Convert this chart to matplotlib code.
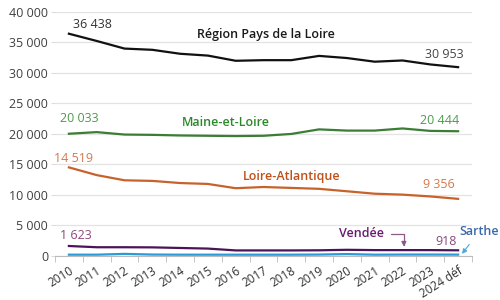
import matplotlib
matplotlib.use("Agg")
import matplotlib.pyplot as plt

# data
years = ["2010", "2011", "2012", "2013", "2014", "2015", "2016", "2017",
         "2018", "2019", "2020", "2021", "2022", "2023", "2024 déf"]
region = [36438, 35250, 34000, 33800, 33150, 32850, 32000, 32100,
          32100, 32800, 32450, 31850, 32050, 31400, 30953]
maine = [20033, 20300, 19900, 19850, 19750, 19700, 19650, 19700,
         20000, 20750, 20550, 20550, 20900, 20500, 20444]
loire_atl = [14519, 13250, 12400, 12300, 11950, 11800, 11100, 11300,
             11150, 11000, 10600, 10200, 10050, 9750, 9356]
vendee = [1623, 1420, 1420, 1400, 1300, 1200, 900, 900,
          900, 920, 1000, 950, 950, 950, 918]
sarthe = [200, 200, 330, 220, 200, 200, 200, 200,
          200, 220, 300, 200, 220, 220, 210]

plt.rcParams['font.family'] = ['Open Sans', 'DejaVu Sans']

fig = plt.figure(figsize=(5, 3), dpi=100)
ax = fig.add_axes([0.11, 0.147, 0.834, 0.813])

x = list(range(len(years)))
ax.plot(x, region, color="#111111", lw=1.6, zorder=3)
ax.plot(x, maine, color="#3b7d35", lw=1.6, zorder=3)
ax.plot(x, loire_atl, color="#c8622c", lw=1.6, zorder=3)
ax.plot(x, vendee, color="#4b1458", lw=1.6, zorder=3)
ax.plot(x, sarthe, color="#2a9ad8", lw=1.6, zorder=3)

ax.set_xlim(-0.5, len(years) - 0.5)
ax.set_ylim(0, 40000)
ax.set_yticks(range(0, 40001, 5000))
ax.set_yticklabels([f"{v:,}".replace(",", " ") for v in range(0, 40001, 5000)])
ax.grid(axis="y", color="#e3e3e3", lw=0.9)
ax.set_axisbelow(True)
for s in ["top", "right", "left"]:
    ax.spines[s].set_visible(False)
ax.spines["bottom"].set_color("#bbbbbb")
ax.tick_params(axis="y", length=3, color="#dddddd", labelsize=9, labelcolor="#404040", pad=2)

ax.set_xticks(x)
ax.set_xticklabels(years, rotation=32, ha="right", rotation_mode="anchor")
ax.set_xticks([i - 0.5 for i in range(len(years) + 1)], minor=True)
ax.tick_params(axis="x", which="major", length=0, labelsize=8.5, labelcolor="#303030", pad=6)
ax.tick_params(axis="x", which="minor", length=4, color="#bbbbbb")

# value labels
def vlabel(i, v, dx, dy, color, ha="center"):
    ax.annotate(f"{v:,}".replace(",", " "), (i, v), xytext=(dx, dy),
                textcoords="offset pixels", ha=ha, va="center",
                fontsize=9, color=color)

vlabel(0, region[0], 24, 9, "#333333")
vlabel(14, region[14], 6, 13, "#444444", ha="right")
vlabel(0, maine[0], 10, 15, "#4c9a4c")
vlabel(14, maine[14], 1, 11, "#4c9a4c", ha="right")
vlabel(0, loire_atl[0], 5, 9, "#d4784e")
vlabel(14, loire_atl[14], -3, 14, "#d4784e", ha="right")
vlabel(0, vendee[0], 7, 11, "#8a4a7a")
vlabel(14, vendee[14], -12, 9, "#8a4a7a")

# series labels
lab = dict(fontsize=9, fontweight="semibold", ha="center", va="center")
ax.text(7.09, 36230, "Région Pays de la Loire", color="#1a1a1a", **lab)
ax.text(5.65, 21800, "Maine-et-Loire", color="#2a8a2a", **lab)
ax.text(8.02, 12950, "Loire-Atlantique", color="#c0501a", **lab)
ax.annotate("Vendée", xy=(12.05, 1500), xytext=(10.54, 3600), color="#6a1a6e",
            arrowprops=dict(arrowstyle="-|>", color="#8c5a86", lw=0.9,
                            connectionstyle="angle,angleA=0,angleB=90,rad=0",
                            shrinkA=3, shrinkB=0, mutation_scale=7), **lab)
ax.annotate("Sarthe", xy=(14.14, 330), xytext=(14.75, 3930), color="#3a6aaa",
            annotation_clip=False,
            arrowprops=dict(arrowstyle="-|>", color="#4aa8e0", lw=0.8,
                            shrinkA=3, shrinkB=0, mutation_scale=7), **lab)

fig.savefig("out.png", dpi=100)
